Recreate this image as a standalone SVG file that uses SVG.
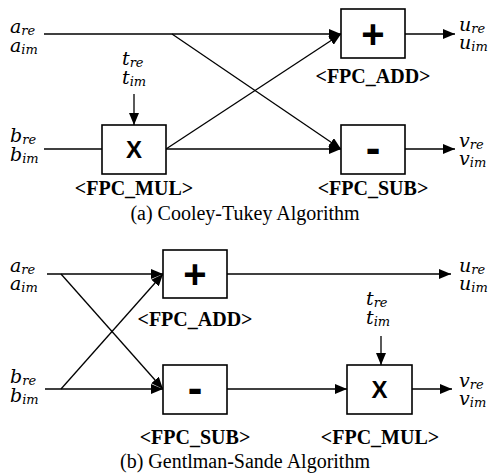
<svg xmlns="http://www.w3.org/2000/svg" width="489" height="475" viewBox="0 0 489 475">
  <style>
    .box { fill: #fff; stroke: #000; stroke-width: 1.6; }
    .ln { fill: none; stroke: #000; stroke-width: 1.3; }
    .arr { marker-end: url(#ah); }
    .op { font-family: "Liberation Sans", Arial, sans-serif; font-weight: bold; text-anchor: middle; fill: #000; }
    .lab { font-family: "Liberation Serif", "Times New Roman", serif; font-weight: bold; font-size: 20px; text-anchor: middle; fill: #000; }
    .cap { font-family: "Liberation Serif", "Times New Roman", serif; font-size: 20px; text-anchor: middle; fill: #000; }
    .m { font-family: "DejaVu Serif", serif; font-style: italic; font-size: 19px; fill: #000; }
    .s { font-size: 13px; }
  </style>
  <defs>
    <marker id="ah" markerUnits="userSpaceOnUse" markerWidth="13" markerHeight="10" refX="12" refY="5" orient="auto">
      <path d="M0,0 L12,5 L0,10 z" fill="#000"/>
    </marker>
  </defs>

  <!-- (a) Cooley-Tukey -->
  <g id="connectors-a">
    <line class="ln arr" x1="44" y1="34" x2="341" y2="34"/>
    <line class="ln arr" x1="172" y1="34" x2="341" y2="149"/>
    <line class="ln" x1="44" y1="149" x2="102" y2="149"/>
    <line class="ln arr" x1="166" y1="149" x2="341" y2="149"/>
    <line class="ln arr" x1="166" y1="149" x2="341" y2="34"/>
    <line class="ln arr" x1="405" y1="34" x2="455" y2="34"/>
    <line class="ln arr" x1="405" y1="149" x2="455" y2="149"/>
    <line class="ln arr" x1="134" y1="94" x2="134" y2="125"/>
  </g>

  <g id="a-in-a">
    <text class="m" x="10" y="33">a<tspan class="s" dy="2">re</tspan></text>
    <text class="m" x="10" y="52">a<tspan class="s" dy="2">im</tspan></text>
  </g>
  <g id="a-in-b">
    <text class="m" x="10" y="142">b<tspan class="s" dy="2">re</tspan></text>
    <text class="m" x="10" y="161">b<tspan class="s" dy="2">im</tspan></text>
  </g>
  <g id="a-in-t">
    <text class="m" x="122" y="65">t<tspan class="s" dy="2">re</tspan></text>
    <text class="m" x="122" y="84">t<tspan class="s" dy="2">im</tspan></text>
  </g>
  <g id="a-mul">
    <rect class="box" x="102" y="125" width="64" height="49"/>
    <text class="op" x="134" y="158" font-size="24">X</text>
    <text class="lab" x="134" y="195">&lt;FPC_MUL&gt;</text>
  </g>
  <g id="a-add">
    <rect class="box" x="341" y="9" width="64" height="49"/>
    <text class="op" x="373" y="48" font-size="40">+</text>
    <text class="lab" x="373" y="83">&lt;FPC_ADD&gt;</text>
  </g>
  <g id="a-sub">
    <rect class="box" x="341" y="125" width="64" height="49"/>
    <text class="op" x="373" y="163" font-size="44">-</text>
    <text class="lab" x="373" y="195">&lt;FPC_SUB&gt;</text>
  </g>
  <g id="a-out-u">
    <text class="m" x="459" y="31">u<tspan class="s" dy="2">re</tspan></text>
    <text class="m" x="459" y="49">u<tspan class="s" dy="2">im</tspan></text>
  </g>
  <g id="a-out-v">
    <text class="m" x="459" y="147">v<tspan class="s" dy="2">re</tspan></text>
    <text class="m" x="459" y="165">v<tspan class="s" dy="2">im</tspan></text>
  </g>
  <text class="cap" x="245" y="220">(a) Cooley-Tukey Algorithm</text>

  <!-- (b) Gentleman-Sande -->
  <g id="connectors-b">
    <line class="ln arr" x1="47" y1="274" x2="163" y2="274"/>
    <line class="ln arr" x1="61" y1="274" x2="163" y2="389"/>
    <line class="ln arr" x1="45" y1="389" x2="163" y2="389"/>
    <line class="ln arr" x1="61" y1="389" x2="163" y2="274"/>
    <line class="ln arr" x1="227" y1="274" x2="451" y2="274"/>
    <line class="ln arr" x1="227" y1="389" x2="347" y2="389"/>
    <line class="ln arr" x1="412" y1="389" x2="452" y2="389"/>
    <line class="ln arr" x1="381" y1="336" x2="381" y2="365"/>
  </g>

  <g id="b-in-a">
    <text class="m" x="10" y="272">a<tspan class="s" dy="2">re</tspan></text>
    <text class="m" x="10" y="290">a<tspan class="s" dy="2">im</tspan></text>
  </g>
  <g id="b-in-b">
    <text class="m" x="10" y="383">b<tspan class="s" dy="2">re</tspan></text>
    <text class="m" x="10" y="402">b<tspan class="s" dy="2">im</tspan></text>
  </g>
  <g id="b-add">
    <rect class="box" x="163" y="250" width="64" height="48"/>
    <text class="op" x="195" y="288" font-size="40">+</text>
    <text class="lab" x="195" y="326">&lt;FPC_ADD&gt;</text>
  </g>
  <g id="b-sub">
    <rect class="box" x="163" y="365" width="64" height="49"/>
    <text class="op" x="195" y="403" font-size="44">-</text>
    <text class="lab" x="195" y="444">&lt;FPC_SUB&gt;</text>
  </g>
  <g id="b-in-t">
    <text class="m" x="366" y="305">t<tspan class="s" dy="2">re</tspan></text>
    <text class="m" x="366" y="324">t<tspan class="s" dy="2">im</tspan></text>
  </g>
  <g id="b-mul">
    <rect class="box" x="347" y="365" width="65" height="49"/>
    <text class="op" x="379.5" y="398" font-size="24">X</text>
    <text class="lab" x="380" y="444">&lt;FPC_MUL&gt;</text>
  </g>
  <g id="b-out-u">
    <text class="m" x="459" y="272">u<tspan class="s" dy="2">re</tspan></text>
    <text class="m" x="459" y="290">u<tspan class="s" dy="2">im</tspan></text>
  </g>
  <g id="b-out-v">
    <text class="m" x="459" y="387">v<tspan class="s" dy="2">re</tspan></text>
    <text class="m" x="459" y="405">v<tspan class="s" dy="2">im</tspan></text>
  </g>
  <text class="cap" x="245" y="468">(b) Gentlman-Sande Algorithm</text>
</svg>
